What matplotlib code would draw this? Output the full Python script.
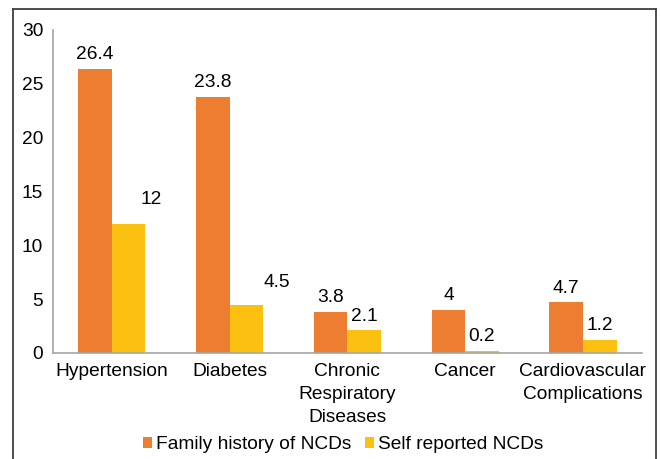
import numpy as np
import matplotlib.pyplot as plt
from matplotlib.lines import Line2D

plt.rcParams['font.family'] = ['Liberation Sans', 'DejaVu Sans']

categories = ["Hypertension", "Diabetes", "Chronic\nRespiratory\nDiseases", "Cancer",
              "Cardiovascular\nComplications"]
family_history = [26.4, 23.8, 3.8, 4, 4.7]
self_reported = [12, 4.5, 2.1, 0.2, 1.2]
labels_family = ["26.4", "23.8", "3.8", "4", "4.7"]
labels_self = ["12", "4.5", "2.1", "0.2", "1.2"]

# a couple of labels were dragged by hand in the original (points)
nudge_self = {0: (16, 7), 1: (22, 6)}

fs = 13.8
fig = plt.figure(figsize=(6.61, 4.59), dpi=100)
ax = fig.add_axes([0.080, 0.231, 0.891, 0.704])

x = np.arange(len(categories))
w = 0.285
b1 = ax.bar(x - w / 2, family_history, w, color='#ED7D31', label='Family history of NCDs')
b2 = ax.bar(x + w / 2, self_reported, w, color='#FCC010', label='Self reported NCDs')

for k, (bars, labs) in enumerate(((b1, labels_family), (b2, labels_self))):
    for i, (r, t) in enumerate(zip(bars, labs)):
        dx, dy = (0, 0)
        if k == 1:
            dx, dy = nudge_self.get(i, (0, 0))
        ax.annotate(t, (r.get_x() + r.get_width() / 2, r.get_height()),
                    xytext=(dx, 4 + dy), textcoords='offset points',
                    ha='center', va='bottom', fontsize=fs)

ax.set_xlim(-0.5, 4.5)
ax.set_ylim(0, 30)
ax.set_yticks(range(0, 31, 5))
ax.set_xticks(x)
ax.set_xticklabels(categories, linespacing=1.45)
ax.tick_params(axis='both', length=0, labelsize=fs)
ax.tick_params(axis='x', pad=7.5)
ax.tick_params(axis='y', pad=7)
for s in ('top', 'right'):
    ax.spines[s].set_visible(False)
for s in ('left', 'bottom'):
    ax.spines[s].set_color('#A6A6A6')
    ax.spines[s].set_linewidth(1.2)

fig.legend(handles=[b1, b2], loc='center', bbox_to_anchor=(0.519, 0.031), ncol=2,
           frameon=False, fontsize=fs, handlelength=0.5, handleheight=0.5,
           handletextpad=0.2, columnspacing=0.7)

# outer border (bottom edge is cut off in the reference)
bc = '#404040'
fig.add_artist(Line2D([13 / 661, 13 / 661], [0, 1 - 9 / 459], color=bc, lw=1.3, transform=fig.transFigure))
fig.add_artist(Line2D([13 / 661, 656 / 661], [1 - 9 / 459, 1 - 9 / 459], color=bc, lw=1.3, transform=fig.transFigure))
fig.add_artist(Line2D([656 / 661, 656 / 661], [0, 1 - 9 / 459], color=bc, lw=1.3, transform=fig.transFigure))

fig.savefig('out.png', dpi=100)
